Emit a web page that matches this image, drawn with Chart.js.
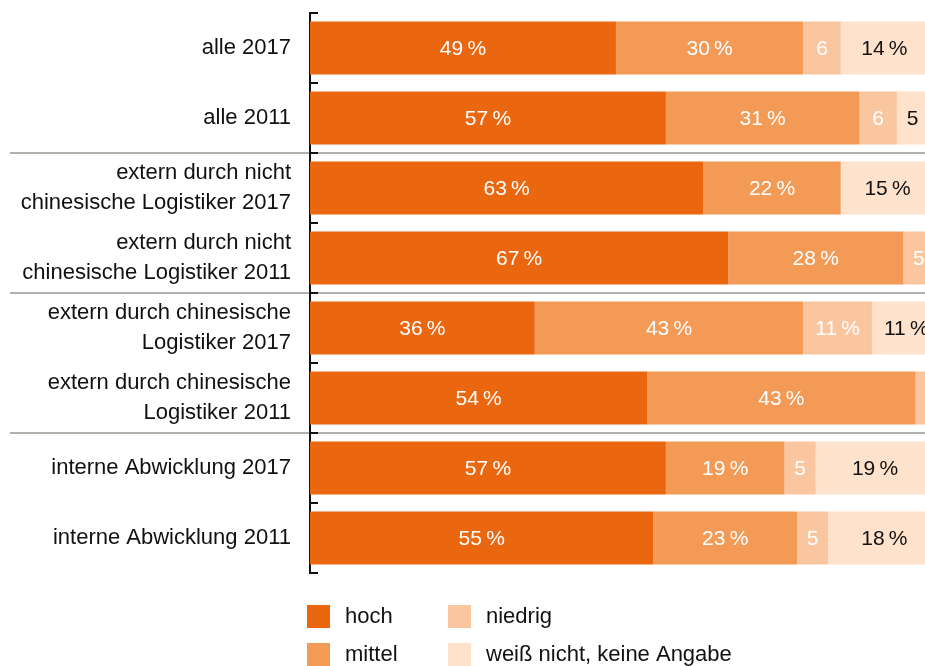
<!DOCTYPE html>
<html>
<head>
<meta charset="utf-8">
<script src="https://cdn.jsdelivr.net/npm/chart.js@4"></script>
<style>
  body { margin: 0; background: #fff; }
  canvas { display: block; }
</style>
</head>
<body>
<canvas id="chart" width="925" height="666"></canvas>
<script>
// categories and shares (in %)
const categories = [
  "alle 2017",
  "alle 2011",
  ["extern durch nicht", "chinesische Logistiker 2017"],
  ["extern durch nicht", "chinesische Logistiker 2011"],
  ["extern durch chinesische", "Logistiker 2017"],
  ["extern durch chinesische", "Logistiker 2011"],
  "interne Abwicklung 2017",
  "interne Abwicklung 2011"
];
const seriesNames = ["hoch", "mittel", "niedrig", "weiß nicht, keine Angabe"];
const hoch = [49, 57, 63, 67, 36, 54, 57, 55];
const mittel = [30, 31, 22, 28, 43, 43, 19, 23];
const niedrig = [6, 6, 0, 5, 11, 3, 5, 5];
const weissNicht = [14, 5, 15, 0, 11, 0, 19, 18];
// group separators after these category indexes
const separatorsAfter = [1, 3, 5];

const colors = ["#ea670f", "#f39a57", "#fac6a0", "#fee2cc"];
const labelColors = ["#fff", "#fff", "#fff", "#111"];
const FONT = "'Liberation Sans', Arial, sans-serif";

function fmt(v) {
  return v >= 10 ? v + "\u2009%" : String(v);
}

// short ticks pointing into the plot at category boundaries
const axisTicks = {
  id: "axisTicks",
  beforeDraw(chart) {
    const { ctx } = chart;
    const y = chart.scales.y;
    ctx.save();
    ctx.strokeStyle = "#b4b0ab";
    ctx.lineWidth = 2;
    separatorsAfter.forEach((i) => {
      const py = Math.round(y.getPixelForValue(i + 0.5));
      ctx.beginPath();
      ctx.moveTo(10, py);
      ctx.lineTo(chart.width, py);
      ctx.stroke();
    });
    ctx.restore();
  },
  beforeDatasetsDraw(chart) {
    const { ctx, chartArea } = chart;
    const y = chart.scales.y;
    ctx.save();
    ctx.strokeStyle = "#111";
    ctx.lineWidth = 2;
    for (let i = 0; i <= categories.length; i++) {
      const py = Math.round(y.getPixelForValue(i - 0.5));
      ctx.beginPath();
      ctx.moveTo(chartArea.left - 1, py);
      ctx.lineTo(chartArea.left + 8, py);
      ctx.stroke();
    }
    ctx.restore();
  }
};

// value labels in the middle of each segment
const barLabels = {
  id: "barLabels",
  afterDatasetsDraw(chart) {
    const { ctx } = chart;
    ctx.save();
    ctx.font = "21px " + FONT;
    ctx.textAlign = "center";
    ctx.textBaseline = "middle";
    chart.data.datasets.forEach((ds, di) => {
      const meta = chart.getDatasetMeta(di);
      meta.data.forEach((bar, i) => {
        const v = ds.data[i];
        if (!v || v < 4) return;
        ctx.fillStyle = labelColors[di];
        ctx.fillText(fmt(v), (bar.x + bar.base) / 2, bar.y + 1);
      });
    });
    ctx.restore();
  }
};

// 2x2 legend, column-major
const gridLegend = {
  id: "gridLegend",
  afterDraw(chart) {
    const { ctx } = chart;
    const cols = [307, 448];
    const rows = [605, 643];
    ctx.save();
    ctx.font = "22px " + FONT;
    ctx.textBaseline = "middle";
    ctx.textAlign = "left";
    seriesNames.forEach((name, k) => {
      const x = cols[Math.floor(k / 2)];
      const y = rows[k % 2];
      ctx.fillStyle = colors[k];
      ctx.fillRect(x, y, 23, 23);
      ctx.fillStyle = "#111";
      ctx.fillText(name, x + 38, y + 12);
    });
    ctx.restore();
  }
};

const series = [hoch, mittel, niedrig, weissNicht];

new Chart(document.getElementById("chart"), {
  type: "bar",
  data: {
    labels: categories,
    datasets: series.map((d, k) => ({
      label: seriesNames[k],
      data: d,
      backgroundColor: colors[k],
      borderWidth: 0,
      categoryPercentage: 1,
      barPercentage: 0.757
    }))
  },
  options: {
    indexAxis: "y",
    responsive: false,
    animation: false,
    layout: { padding: { top: 13, bottom: 93, left: 0, right: 0 } },
    plugins: {
      legend: { display: false },
      tooltip: { enabled: false }
    },
    scales: {
      x: {
        stacked: true,
        display: false,
        min: 0,
        max: 98.5
      },
      y: {
        stacked: true,
        grid: { display: false },
        border: { display: true, color: "#111", width: 2 },
        ticks: {
          color: "#111",
          padding: 11,
          font: { family: FONT, size: 22, lineHeight: 1.36 }
        },
        afterFit(scale) {
          scale.width = 310;
          scale.paddingTop = 0;
          scale.paddingBottom = 0;
        }
      }
    }
  },
  plugins: [axisTicks, barLabels, gridLegend]
});
</script>
</body>
</html>
